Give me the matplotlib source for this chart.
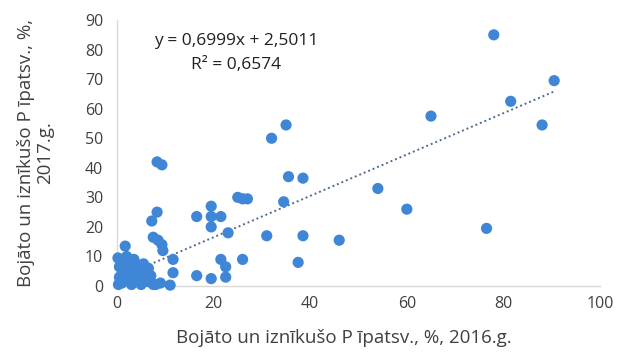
import numpy as np
import matplotlib.pyplot as plt

# P share 2016 (x) vs 2017 (y), %
x_2016 = [78, 90.5, 81.5, 88, 65, 76.5, 54, 60, 46, 38.5, 37.5, 38.5, 35.5, 35, 32, 34.5, 31,
          25, 26, 27, 26, 23, 21.5, 22.5, 22.5, 19.5, 16.5, 16.5, 19.5, 19.5, 21.5, 19.5,
          8.3, 9.3, 8.3, 7.2, 7.5, 8.5, 9.3, 9.5, 11.6, 11.6, 11, 9, 8, 1.7,
          0.3, 0.5, 0.5, 1, 1.5, 1.5, 2, 2.5, 2.5, 3, 3, 3.5, 4, 4, 4.5, 5, 5.5, 5.5,
          6, 6.5, 6.5, 7, 7.5, 1, 0.2]
y_2017 = [85, 69.5, 62.5, 54.5, 57.5, 19.5, 33, 26, 15.5, 17, 8, 36.5, 37, 54.5, 50, 28.5, 17,
          30, 29.5, 29.5, 9, 18, 9, 6.5, 3, 2.5, 3.5, 23.5, 27, 23.5, 23.5, 20,
          42, 41, 25, 22, 16.5, 15.5, 14, 12, 9, 4.5, 0.3, 1, 0.5, 13.5,
          0.5, 3, 6.5, 1, 4, 8, 10, 2, 6, 0.5, 3.5, 9, 1.5, 5, 7, 0.5, 3, 7.5,
          5, 1.5, 6, 3.5, 0.5, 8.5, 9.5]

slope = 0.6999
intercept = 2.5011
r2 = 0.6574

x_ticks = [0, 20, 40, 60, 80, 100]
y_ticks = [0, 10, 20, 30, 40, 50, 60, 70, 80, 90]

plt.rcParams['font.family'] = ['Open Sans', 'DejaVu Sans']

fig = plt.figure(figsize=(6.29, 3.52), dpi=100)
ax = fig.add_axes([0.186, 0.1875, 0.768, 0.7555])

xs = np.array(x_2016)
line_x = np.array([xs.min(), xs.max()])
ax.plot(line_x, slope * line_x + intercept, linestyle=(0, (1, 1.5)), color='#4f6d8f',
        linewidth=1.4, zorder=2)
ax.scatter(x_2016, y_2017, s=65, color='#3f87d6', edgecolors='none', zorder=3, clip_on=False)

ax.set_xlim(0, 100)
ax.set_ylim(0, 90)
ax.set_xticks(x_ticks)
ax.set_yticks(y_ticks)
ax.tick_params(length=0, labelsize=11.5, colors='#404040')
ax.tick_params(axis='y', pad=10)
ax.tick_params(axis='x', pad=7)
for s in ['top', 'right']:
    ax.spines[s].set_visible(False)
for s in ['left', 'bottom']:
    ax.spines[s].set_color('#d9d9d9')
    ax.spines[s].set_linewidth(1)

ax.set_xlabel('Bojāto un iznīkušo P īpatsv., %, 2016.g.', fontsize=13.5, color='#404040')
ax.set_ylabel('Bojāto un iznīkušo P īpatsv., %,\n2017.g.', fontsize=13.5, color='#404040',
              linespacing=1.1)
ax.xaxis.set_label_coords(0.47, -0.16)
ax.yaxis.set_label_coords(-0.13, 0.5)

eq = 'y = {}x + {}'.format(str(slope).replace('.', ','), str(intercept).replace('.', ','))
r2_txt = 'R² = {}'.format(str(r2).replace('.', ','))
ax.text(0.246, 0.95, eq + '\n' + r2_txt, transform=ax.transAxes, ha='center', va='top',
        fontsize=12.5, color='#202020', linespacing=1.6)

fig.savefig('out.png', dpi=100)
